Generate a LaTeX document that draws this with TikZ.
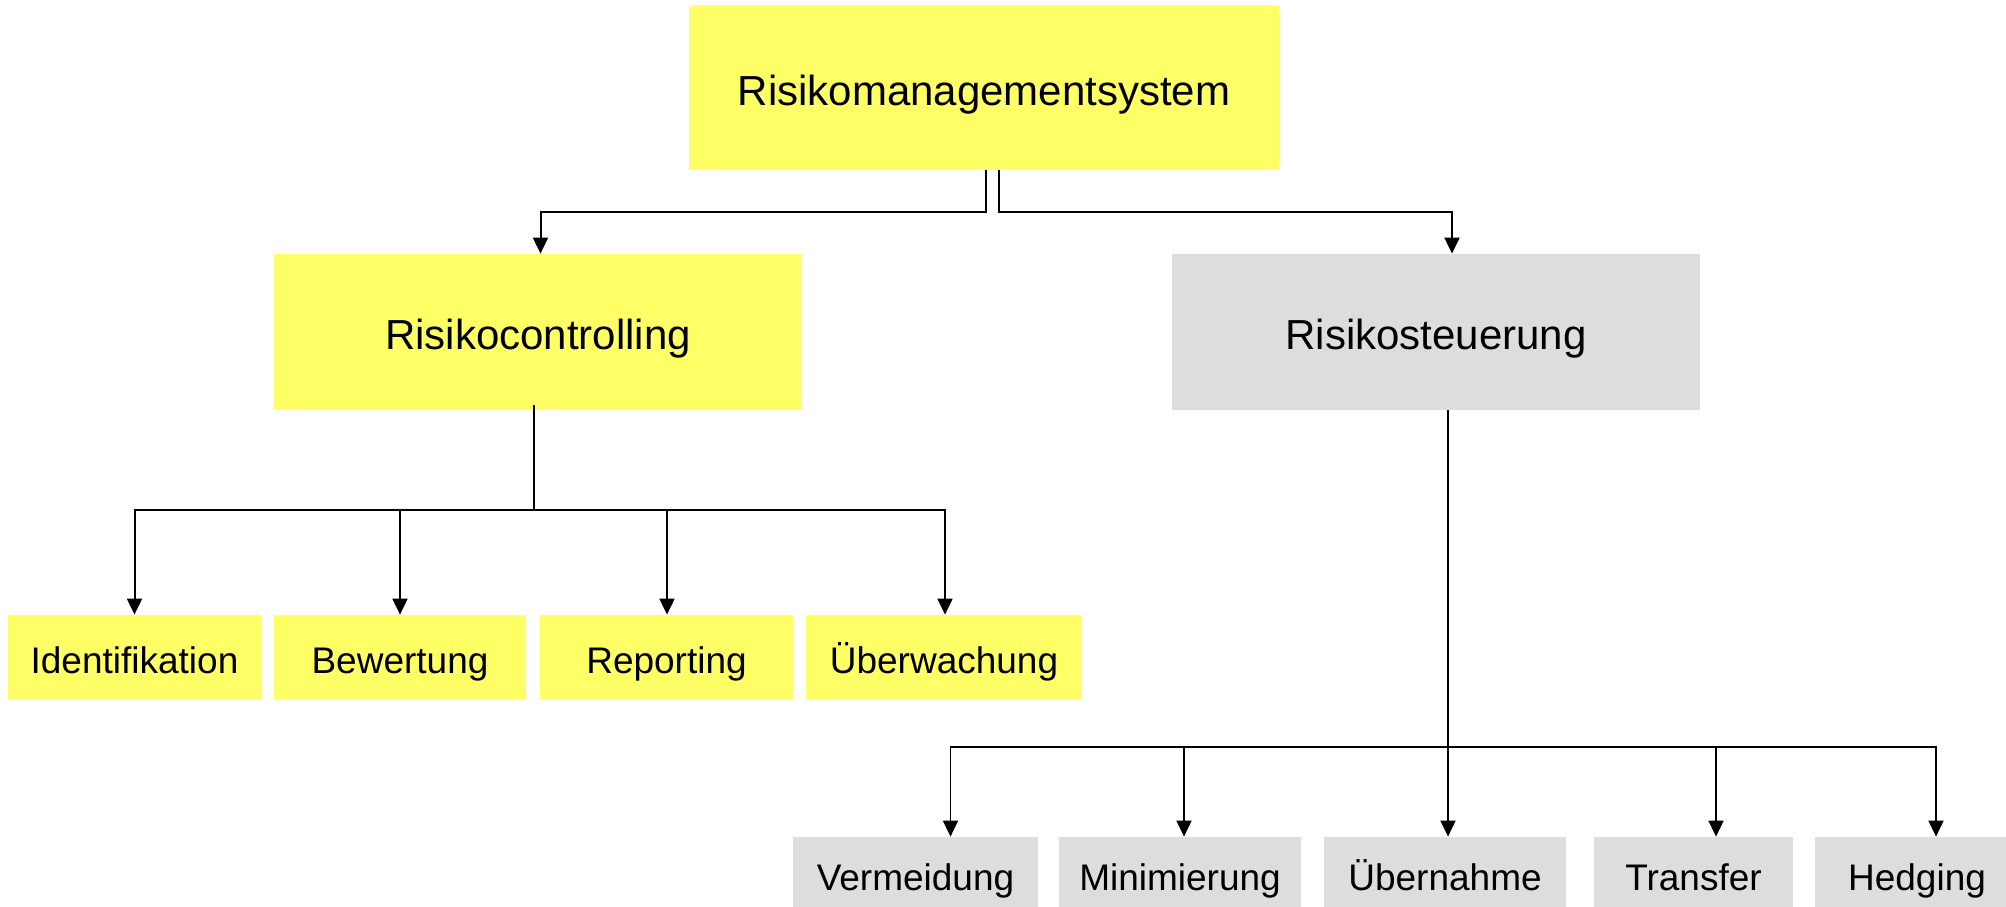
\documentclass[tikz,border=0pt]{standalone}
\usepackage{fontspec}
\setmainfont{Liberation Sans}
\usetikzlibrary{arrows.meta,calc}
\definecolor{boxyellow}{RGB}{255,255,102}
\definecolor{boxgray}{RGB}{221,221,221}
\begin{document}
\begin{tikzpicture}[x=0.5pt,y=-0.5pt,
  bigbox/.style={rectangle,inner sep=0pt,draw=none,font=\fontsize{21pt}{25pt}\selectfont,text height=17.5pt,text depth=0pt},
  smallbox/.style={rectangle,inner sep=0pt,draw=none,font=\fontsize{18.5pt}{22pt}\selectfont,text height=15.75pt,text depth=0pt,minimum height=42.5pt},
  yel/.style={fill=boxyellow},
  gry/.style={fill=boxgray},
  conn/.style={draw=black,line width=1pt},
  arr/.style={conn,-{Triangle[width=7.5pt,length=8pt]}},
  arrthin/.style={draw=black,line width=0.9pt,-{Triangle[width=7.5pt,length=8pt]}}]
\useasboundingbox (0,0) rectangle (2006,906);
% level 0
\node[bigbox,yel,minimum width=295pt,minimum height=82.5pt] (top) at (984,87.5) {Risikomanagementsystem};
% level 1
\node[bigbox,yel,minimum width=264pt,minimum height=78pt] (rc) at (538,332) {Risikocontrolling};
\node[bigbox,gry,minimum width=264pt,minimum height=78pt] (rs) at (1436,332) {Risikosteuerung};
% level 2 left
\node[smallbox,yel,minimum width=126.5pt] (iden) at (134.5,657.5) {Identifikation};
\node[smallbox,yel,minimum width=126pt] (bew) at (400,657.5) {Bewertung};
\node[smallbox,yel,minimum width=126.5pt] (rep) at (666.5,657.5) {Reporting};
\node[smallbox,yel,minimum width=138pt] (ueb) at (944,657.5) {Überwachung};
% level 2 right
\node[smallbox,gry,minimum width=122.5pt,minimum height=38pt] (verm) at (915.5,875) {Vermeidung};
\node[smallbox,gry,minimum width=121pt,minimum height=38pt] (mini) at (1180,875) {Minimierung};
\node[smallbox,gry,minimum width=121pt,minimum height=38pt] (uebn) at (1445,875) {Übernahme};
\node[smallbox,gry,minimum width=99.5pt,minimum height=38pt] (trans) at (1693.5,875) {Transfer};
\node[smallbox,gry,minimum width=102pt,minimum height=38pt] (hedg) at (1917,875) {Hedging};
% connectors from top
\coordinate (b1) at (540.5,211.5);
\coordinate (b2) at (1452,211.5);
\draw[arr] ([xshift=0.85pt]top.south) |- (b1) -- (b1 |- rc.north);
\draw[arr] ([xshift=7.5pt]top.south) |- (b2) -- (b2 |- rs.north);
% Risikocontrolling bus
\coordinate (h1) at (533.5,510);
\draw[conn] ([xshift=-2.25pt,yshift=2.5pt]rc.south) -- (h1);
\draw[arr] (h1) -| (iden.north);
\draw[arr] (h1) -| (bew.north);
\draw[arr] (h1) -| ([xshift=0.25pt]rep.north);
\draw[arr] (h1) -| ([xshift=0.5pt]ueb.north);
% Risikosteuerung bus
\coordinate (h2) at (1448,747);
\draw[draw=black,line width=0.8pt] (rs.south -| h2) -- (h2);
\draw[arrthin] (h2) -| ([xshift=17.5pt]verm.north);
\draw[arrthin] (h2) -| ([xshift=2pt]mini.north);
\draw[arrthin] (h2) -- (h2 |- uebn.north);
\draw[arrthin] (h2) -| ([xshift=11.25pt]trans.north);
\draw[arrthin] (h2) -| ([xshift=9.5pt]hedg.north);
\end{tikzpicture}
\end{document}
